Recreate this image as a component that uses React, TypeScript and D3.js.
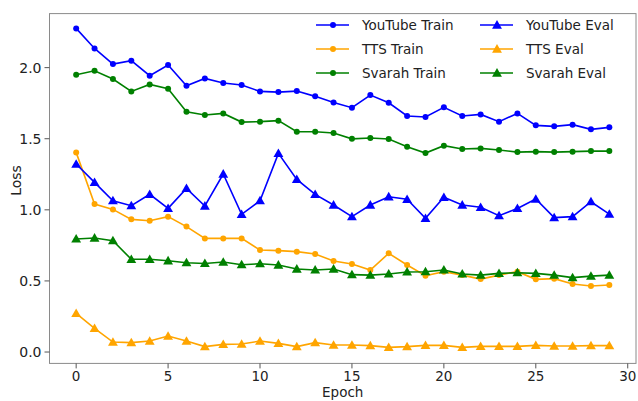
import React from 'react';
import * as d3 from 'd3';

const epochs = d3.range(30);

const youtubeTrain = [2.276, 2.135, 2.025, 2.049, 1.943, 2.018, 1.873, 1.924, 1.892, 1.878, 1.833, 1.828, 1.835, 1.798, 1.755, 1.718, 1.807, 1.753, 1.66, 1.653, 1.721, 1.66, 1.671, 1.62, 1.678, 1.594, 1.587, 1.599, 1.566, 1.58];
const ttsTrain = [1.404, 1.041, 1.003, 0.933, 0.923, 0.952, 0.882, 0.799, 0.799, 0.799, 0.717, 0.713, 0.706, 0.689, 0.64, 0.619, 0.577, 0.694, 0.612, 0.537, 0.565, 0.541, 0.513, 0.541, 0.565, 0.511, 0.516, 0.478, 0.464, 0.471];
const svarahTrain = [1.95, 1.978, 1.92, 1.833, 1.882, 1.852, 1.69, 1.667, 1.678, 1.617, 1.62, 1.627, 1.549, 1.549, 1.54, 1.499, 1.505, 1.498, 1.444, 1.399, 1.451, 1.428, 1.432, 1.421, 1.406, 1.409, 1.406, 1.409, 1.413, 1.413];
const youtubeEval = [1.322, 1.193, 1.064, 1.029, 1.109, 1.01, 1.151, 1.027, 1.252, 0.968, 1.064, 1.397, 1.214, 1.109, 1.034, 0.952, 1.034, 1.092, 1.074, 0.94, 1.088, 1.034, 1.018, 0.959, 1.01, 1.076, 0.945, 0.952, 1.057, 0.97];
const ttsEval = [0.272, 0.167, 0.07, 0.066, 0.077, 0.112, 0.077, 0.038, 0.054, 0.056, 0.077, 0.061, 0.038, 0.066, 0.049, 0.049, 0.045, 0.033, 0.038, 0.047, 0.047, 0.033, 0.04, 0.04, 0.04, 0.047, 0.042, 0.042, 0.045, 0.045];
const svarahEval = [0.795, 0.802, 0.783, 0.652, 0.652, 0.642, 0.628, 0.623, 0.633, 0.614, 0.621, 0.612, 0.584, 0.577, 0.584, 0.544, 0.541, 0.549, 0.563, 0.565, 0.577, 0.549, 0.541, 0.553, 0.558, 0.553, 0.541, 0.523, 0.534, 0.541];

const xTicks = [0, 5, 10, 15, 20, 25, 30];
const yTicks = [0, 0.5, 1.0, 1.5, 2.0];

const series = [
  { name: 'YouTube Train', values: youtubeTrain, color: '#0000ff', marker: 'circle' },
  { name: 'TTS Train', values: ttsTrain, color: '#ffa500', marker: 'circle' },
  { name: 'Svarah Train', values: svarahTrain, color: '#008000', marker: 'circle' },
  { name: 'YouTube Eval', values: youtubeEval, color: '#0000ff', marker: 'triangle' },
  { name: 'TTS Eval', values: ttsEval, color: '#ffa500', marker: 'triangle' },
  { name: 'Svarah Eval', values: svarahEval, color: '#008000', marker: 'triangle' },
];

const font = '"DejaVu Sans", sans-serif';
const triangle = d3.symbol().type(d3.symbolTriangle).size(42)();

function Marker({ kind, x, y, color }) {
  if (kind === 'circle') return <circle cx={x} cy={y} r={3} fill={color} />;
  return <path d={triangle} transform={`translate(${x},${y + 0.8})`} fill={color} />;
}

export default function App() {
  const width = 638;
  const height = 401;
  const x = d3.scaleLinear().domain([-1.45, 30.45]).range([49.5, 636]);
  const y = d3.scaleLinear().domain([-0.08, 2.38]).range([363.4, 13.6]);

  const line = d3.line<number>()
    .x((d, i) => x(epochs[i]))
    .y(d => y(d));

  const [x0, x1] = x.range();
  const [y0, y1] = y.range();

  return (
    <svg width={width} height={height} style={{ position: 'absolute', left: 0, top: 0, background: '#fff' }}>
      {/* series */}
      {series.map(s => (
        <g key={s.name}>
          <path d={line(s.values) ?? ''} fill="none" stroke={s.color} strokeWidth={1.6} />
          {s.values.map((v, i) => (
            <Marker key={i} kind={s.marker} x={x(epochs[i])} y={y(v)} color={s.color} />
          ))}
        </g>
      ))}

      {/* frame */}
      <rect x={x0} y={y1} width={x1 - x0} height={y0 - y1} fill="none" stroke="#8a8a8a" strokeWidth={1} />

      {/* x axis */}
      {xTicks.map(t => (
        <g key={t} transform={`translate(${x(t)},${y0})`}>
          <line y2={5} stroke="#555" />
          <text y={17.6} textAnchor="middle" fontFamily={font} fontSize={13.5} fill="#222">{t}</text>
        </g>
      ))}
      <text x={(x0 + x1) / 2} y={397} textAnchor="middle" fontFamily={font} fontSize={13.5} fill="#222">Epoch</text>

      {/* y axis */}
      {yTicks.map(t => (
        <g key={t} transform={`translate(${x0},${y(t)})`}>
          <line x2={-5} stroke="#555" />
          <text x={-8} dy="0.35em" textAnchor="end" fontFamily={font} fontSize={14} fill="#222">{t.toFixed(1)}</text>
        </g>
      ))}
      <text transform={`translate(21,${(y0 + y1) / 2 - 8}) rotate(-90)`} textAnchor="middle" fontFamily={font} fontSize={14} fill="#222">Loss</text>

      {/* legend */}
      {series.map((s, i) => {
        const col = Math.floor(i / 3);
        const row = i % 3;
        const lx = col === 0 ? 316 : 480;
        const ly = 25 + row * 24;
        return (
          <g key={s.name} transform={`translate(${lx},${ly})`}>
            <line x1={0} x2={33} stroke={s.color} strokeWidth={1.6} />
            <Marker kind={s.marker} x={17} y={0} color={s.color} />
            <text x={46} dy="0.35em" fontFamily={font} fontSize={13.5} fill="#222">{s.name}</text>
          </g>
        );
      })}
    </svg>
  );
}
